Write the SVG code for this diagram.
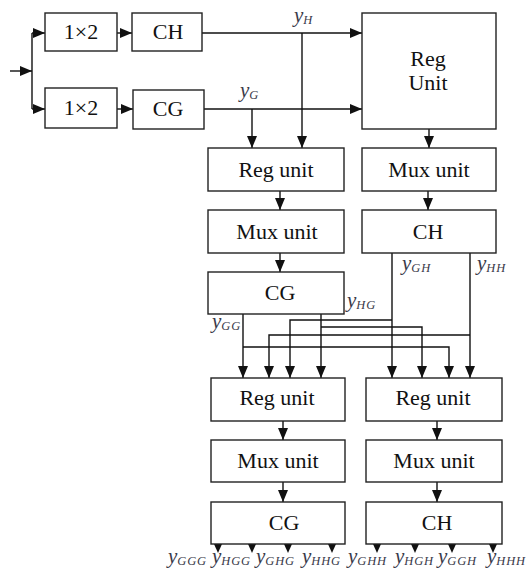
<svg xmlns="http://www.w3.org/2000/svg" width="532" height="569" viewBox="0 0 532 569">
<style>
.box{fill:#fff;stroke:#222;stroke-width:1.4}
.t{font-family:'Liberation Serif','Times New Roman','DejaVu Serif',serif;font-size:22px;fill:#111;text-anchor:middle}
.c{fill:none;stroke:#111;stroke-width:1.4}
.lbl{font-family:'Liberation Serif','Times New Roman','DejaVu Serif',serif;font-style:italic;font-size:21px;fill:#3a3a4a}
.sub{font-size:12.5px;letter-spacing:0.8px}
.oh{fill:#111}
</style>
<defs>
<marker id="ah" markerUnits="userSpaceOnUse" markerWidth="12" markerHeight="10" refX="12" refY="5" orient="auto">
<path d="M0,0 L12,5 L0,10 z" fill="#111"/>
</marker>
</defs>
<rect width="532" height="569" fill="#fff"/>
<g id="connectors">
<path class="c" d="M10,71 L32,71" marker-end="url(#ah)"/>
<path class="c" d="M32,33 L32,109"/>
<path class="c" d="M32,33 L45,33" marker-end="url(#ah)"/>
<path class="c" d="M32,109 L45,109" marker-end="url(#ah)"/>
<path class="c" d="M117,33 L132,33" marker-end="url(#ah)"/>
<path class="c" d="M117,109 L133,109" marker-end="url(#ah)"/>
<path class="c" d="M202,33 L362,33" marker-end="url(#ah)"/>
<path class="c" d="M302,33 L302,148" marker-end="url(#ah)"/>
<path class="c" d="M204,109 L362,109" marker-end="url(#ah)"/>
<path class="c" d="M252,109 L252,148" marker-end="url(#ah)"/>
<path class="c" d="M429,129 L429,148" marker-end="url(#ah)"/>
<path class="c" d="M280,191 L280,210" marker-end="url(#ah)"/>
<path class="c" d="M428,191 L428,210" marker-end="url(#ah)"/>
<path class="c" d="M280,253 L280,272" marker-end="url(#ah)"/>
<path class="c" d="M392,253 L392,378" marker-end="url(#ah)"/>
<path class="c" d="M470,253 L470,378" marker-end="url(#ah)"/>
<path class="c" d="M243,314 L243,378" marker-end="url(#ah)"/>
<path class="c" d="M321,314 L321,378" marker-end="url(#ah)"/>
<path class="c" d="M392,320 L290,320 L290,378" marker-end="url(#ah)"/>
<path class="c" d="M321,327 L422,327 L422,378" marker-end="url(#ah)"/>
<path class="c" d="M470,335 L269,335 L269,378" marker-end="url(#ah)"/>
<path class="c" d="M243,347 L449,347 L449,378" marker-end="url(#ah)"/>
<path class="c" d="M283,421 L283,440" marker-end="url(#ah)"/>
<path class="c" d="M283,482 L283,502" marker-end="url(#ah)"/>
<path class="c" d="M437,421 L437,440" marker-end="url(#ah)"/>
<path class="c" d="M437,482 L437,502" marker-end="url(#ah)"/>
<path class="oh" d="M214,544 L222,544 L218,553 z"/>
<path class="oh" d="M248,544 L256,544 L252,553 z"/>
<path class="oh" d="M284,544 L292,544 L288,553 z"/>
<path class="oh" d="M328,544 L336,544 L332,553 z"/>
<path class="oh" d="M373,544 L381,544 L377,553 z"/>
<path class="oh" d="M411,544 L419,544 L415,553 z"/>
<path class="oh" d="M448,544 L456,544 L452,553 z"/>
<path class="oh" d="M489,544 L497,544 L493,553 z"/>
</g>
<g id="split1"><rect class="box" x="45" y="13" width="72" height="38"/><text class="t" x="81" y="39">1×2</text></g>
<g id="split2"><rect class="box" x="45" y="88" width="72" height="40"/><text class="t" x="81" y="115">1×2</text></g>
<g id="ch1"><rect class="box" x="132" y="13" width="70" height="38"/><text class="t" x="168" y="39">CH</text></g>
<g id="cg1"><rect class="box" x="133" y="90" width="71" height="39"/><text class="t" x="168" y="116">CG</text></g>
<g id="regBig"><rect class="box" x="362" y="13" width="134" height="116"/><text class="t" x="428" y="66">Reg</text><text class="t" x="428" y="90">Unit</text></g>
<g id="reg2"><rect class="box" x="208" y="148" width="136" height="43"/><text class="t" x="276" y="177">Reg unit</text></g>
<g id="mux2r"><rect class="box" x="362" y="148" width="134" height="43"/><text class="t" x="429" y="177">Mux unit</text></g>
<g id="mux2"><rect class="box" x="208" y="210" width="136" height="43"/><text class="t" x="277" y="239">Mux unit</text></g>
<g id="ch2"><rect class="box" x="362" y="210" width="134" height="43"/><text class="t" x="428" y="239">CH</text></g>
<g id="cg2"><rect class="box" x="208" y="272" width="136" height="42"/><text class="t" x="280" y="300">CG</text></g>
<g id="reg3l"><rect class="box" x="211" y="378" width="134" height="43"/><text class="t" x="277" y="405">Reg unit</text></g>
<g id="reg3r"><rect class="box" x="366" y="378" width="136" height="43"/><text class="t" x="433" y="405">Reg unit</text></g>
<g id="mux3l"><rect class="box" x="211" y="440" width="134" height="42"/><text class="t" x="278" y="468">Mux unit</text></g>
<g id="mux3r"><rect class="box" x="366" y="440" width="136" height="42"/><text class="t" x="434" y="468">Mux unit</text></g>
<g id="cg3"><rect class="box" x="211" y="502" width="134" height="42"/><text class="t" x="284" y="530">CG</text></g>
<g id="ch3"><rect class="box" x="366" y="502" width="136" height="42"/><text class="t" x="437" y="530">CH</text></g>
<g id="labels">
<text class="lbl" x="294" y="22">y<tspan class="sub" dy="2">H</tspan></text>
<text class="lbl" x="240" y="97">y<tspan class="sub" dy="2">G</tspan></text>
<text class="lbl" x="402" y="270">y<tspan class="sub" dy="2">GH</tspan></text>
<text class="lbl" x="477" y="270">y<tspan class="sub" dy="2">HH</tspan></text>
<text class="lbl" x="347" y="307">y<tspan class="sub" dy="2">HG</tspan></text>
<text class="lbl" x="212" y="328">y<tspan class="sub" dy="2">GG</tspan></text>
<text class="lbl" x="168" y="563">y<tspan class="sub" dy="2">GGG</tspan></text>
<text class="lbl" x="212" y="563">y<tspan class="sub" dy="2">HGG</tspan></text>
<text class="lbl" x="256" y="563">y<tspan class="sub" dy="2">GHG</tspan></text>
<text class="lbl" x="302" y="563">y<tspan class="sub" dy="2">HHG</tspan></text>
<text class="lbl" x="348" y="563">y<tspan class="sub" dy="2">GHH</tspan></text>
<text class="lbl" x="395" y="563">y<tspan class="sub" dy="2">HGH</tspan></text>
<text class="lbl" x="438" y="563">y<tspan class="sub" dy="2">GGH</tspan></text>
<text class="lbl" x="487" y="563">y<tspan class="sub" dy="2">HHH</tspan></text>
</g>
</svg>
